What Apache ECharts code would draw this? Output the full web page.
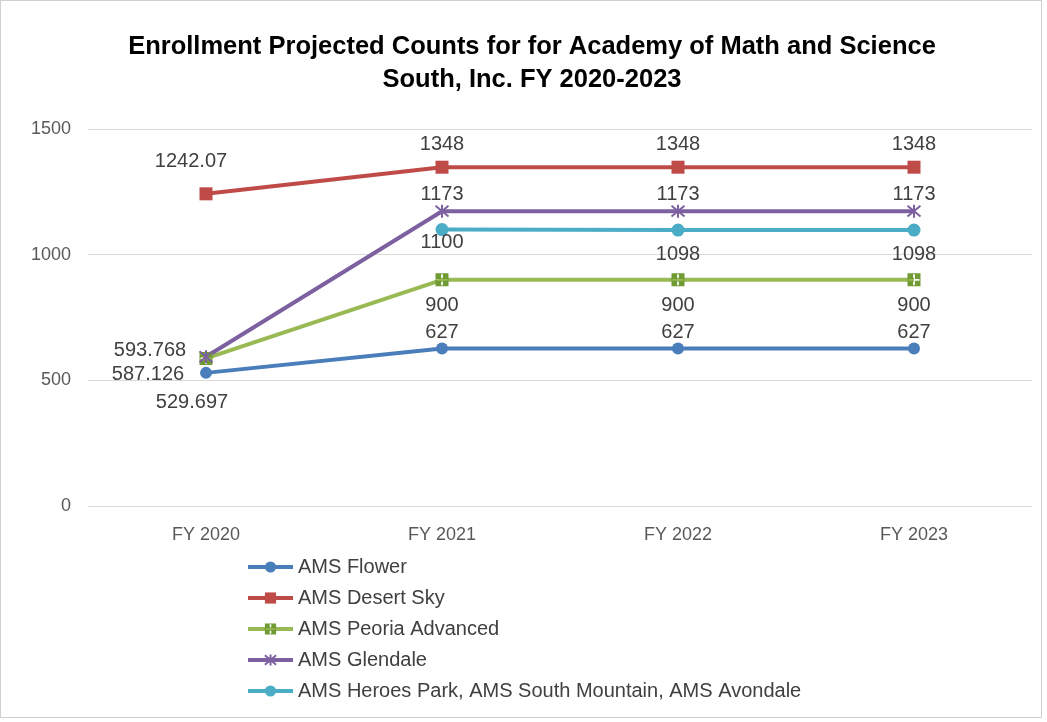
<!DOCTYPE html>
<html>
<head>
<meta charset="utf-8">
<script src="https://cdn.jsdelivr.net/npm/echarts@6/dist/echarts.min.js"></script>
<style>
  html, body { margin: 0; padding: 0; background: #fff; }
  #chart { position: absolute; left: 0; top: 0; width: 1040px; height: 716px; border: 1px solid #d0d0d0; }
</style>
</head>
<body>
<div id="chart"></div>
<script>
// categories and series values
var years = ['FY 2020', 'FY 2021', 'FY 2022', 'FY 2023'];
var flower = [529.697, 627, 627, 627];
var desertSky = [1242.07, 1348, 1348, 1348];
var peoria = [587.126, 900, 900, 900];
var glendale = [593.768, 1173, 1173, 1173];
var heroesPark = [null, 1100, 1098, 1098];
var yTicks = [0, 500, 1000, 1500];

var labelColor = '#404040';
var fontFamily = 'Liberation Sans, Arial, sans-serif';

function lbl(pos, dist) {
    return { show: true, position: pos, color: labelColor, fontSize: 20, fontFamily: fontFamily, distance: dist };
}

var myChart = echarts.init(document.getElementById('chart'));
var option = {
    animation: false,
    title: {
        text: 'Enrollment Projected Counts for for Academy of Math and Science\nSouth, Inc. FY 2020-2023',
        left: 526,
        top: 24,
        textAlign: 'center',
        textStyle: { fontSize: 25.5, fontWeight: 'bold', color: '#000', fontFamily: fontFamily, lineHeight: 33 }
    },
    grid: { left: 87, right: 9, top: 128, bottom: 211, containLabel: false },
    legend: {
        orient: 'vertical',
        left: 245,
        top: 556,
        bottom: 0,
        padding: 0,
        itemWidth: 45,
        itemHeight: 14,
        itemGap: 11,
        lineStyle: { width: 4 },
        textStyle: { fontSize: 20, color: '#404040', fontFamily: fontFamily },
        data: ['AMS Flower', 'AMS Desert Sky', 'AMS Peoria Advanced', 'AMS Glendale',
               'AMS Heroes Park, AMS South Mountain, AMS Avondale']
    },
    xAxis: {
        type: 'category',
        data: years,
        boundaryGap: true,
        axisLine: { show: false },
        axisTick: { show: false },
        axisLabel: { color: '#595959', fontSize: 18, fontFamily: fontFamily, margin: 20 }
    },
    yAxis: {
        type: 'value',
        min: yTicks[0],
        max: yTicks[yTicks.length - 1],
        interval: 500,
        axisLine: { show: false },
        axisTick: { show: false },
        splitLine: { lineStyle: { color: '#d9d9d9', width: 1 } },
        axisLabel: { color: '#595959', fontSize: 18, fontFamily: fontFamily, margin: 17, formatter: function (v) { return String(v); } }
    },
    series: [
        {
            name: 'AMS Flower', type: 'line', data: flower,
            symbol: 'circle', symbolSize: 12,
            lineStyle: { width: 4, color: '#4a7ebb' },
            itemStyle: { color: '#4a7ebb' },
            label: lbl('top', 0),
            labelLayout: function (p) {
                if (p.dataIndex === 0) return { dy: 46, dx: -14 };
            }
        },
        {
            name: 'AMS Desert Sky', type: 'line', data: desertSky,
            symbol: 'rect', symbolSize: 13,
            lineStyle: { width: 4, color: '#be4b48' },
            itemStyle: { color: '#be4b48' },
            label: lbl('top', 6),
            labelLayout: function (p) {
                if (p.dataIndex === 0) return { dy: -10, dx: -15 };
            }
        },
        {
            name: 'AMS Peoria Advanced', type: 'line', data: peoria,
            symbol: 'path://M0,0L10,0L10,10L0,10Z M4.3,0.8L4.3,4.3L0.8,4.3L0.8,5.7L4.3,5.7L4.3,9.2L5.7,9.2L5.7,5.7L9.2,5.7L9.2,4.3L5.7,4.3L5.7,0.8Z',
            symbolSize: 13,
            lineStyle: { width: 4, color: '#98b954' },
            itemStyle: { color: '#6f9a34' },
            label: lbl('bottom', 9),
            labelLayout: function (p) {
                if (p.dataIndex === 0) return { dx: -58, dy: -9 };
            }
        },
        {
            name: 'AMS Glendale', type: 'line', data: glendale,
            symbol: 'path://M0,0L10,10M10,0L0,10M5,-1L5,11',
            symbolSize: 13,
            lineStyle: { width: 4, color: '#7d60a0' },
            itemStyle: { color: 'none', borderColor: '#7d60a0', borderWidth: 2 },
            label: lbl('top', -2),
            labelLayout: function (p) {
                if (p.dataIndex === 0) return { dx: -56, dy: 11 };
            }
        },
        {
            name: 'AMS Heroes Park, AMS South Mountain, AMS Avondale', type: 'line', data: heroesPark,
            symbol: 'circle', symbolSize: 13,
            lineStyle: { width: 4, color: '#4bacc6' },
            itemStyle: { color: '#4bacc6' },
            label: lbl('bottom', 0),
            labelLayout: function (p) {
                if (p.dataIndex === 1) return { dy: -4 };
                if (p.dataIndex > 1) return { dy: 8 };
            }
        }
    ]
};
myChart.setOption(option);
</script>
</body>
</html>
